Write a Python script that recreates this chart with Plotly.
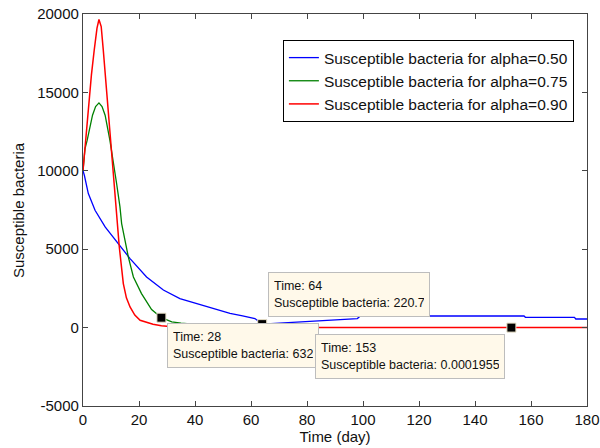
import plotly.graph_objects as go

# ---- data ----
t_red = [0, 1, 2, 3, 4, 5, 5.7, 6.5, 7.25, 8, 8.7, 9.5, 10.2, 11.4, 12, 12.96, 14.4, 15.5,
         16.8, 18.5, 20.4, 23, 25, 28, 32, 40, 60, 100, 153, 180]
v_red = [10000, 12200, 14300, 16100, 17690, 19100, 19650, 19200, 17690, 16100, 14500, 12800,
         11300, 8760, 7350, 5140, 2807, 1900, 1314, 800, 466, 300, 210, 120, 60, 20, 2, 0.05,
         0.0001955, 0.00005]

# green tail beyond ~t=80 lies under the red curve and is not visible in the reference
t_green = [0, 0.7, 1.5, 3.4, 4.5, 5.7, 6.8, 7.9, 9.6, 11.4, 12, 13.2, 13.8, 16.2, 18, 20.9,
           24.5, 28, 31.7, 35, 40, 45, 50, 60, 80]
v_green = [10000, 11400, 11950, 13545, 14100, 14330, 14100, 13545, 11950, 10035, 9190, 7700,
           6635, 4500, 3230, 2170, 1150, 632, 360, 290, 200, 120, 60, 10, 0.5]

t_blue = [0, 0.5, 1.9, 4.3, 7.9, 12, 16.8, 22.7, 28.7, 34.6, 41.5, 47, 52.5, 57, 61.4, 64,
          70.4, 80, 90, 98, 99, 157.5, 158, 175.5, 176, 180]
v_blue = [10000, 9700, 8550, 7480, 6420, 5460, 4400, 3230, 2400, 1850, 1500, 1200, 900, 750,
          574, 220.7, 293, 390, 490, 574, 740, 740, 657, 657, 549, 549]

series_names = ["Susceptible bacteria for alpha=0.50",
                "Susceptible bacteria for alpha=0.75",
                "Susceptible bacteria for alpha=0.90"]

tip_t = [28, 64, 153]
tip_v = [632, 220.7, 0.0001955]
tip_text = ["Time: 28<br>Susceptible bacteria: 632",
            "Time: 64<br>Susceptible bacteria: 220.7",
            "Time: 153<br>Susceptible bacteria: 0.0001955"]

x_ticks = [0, 20, 40, 60, 80, 100, 120, 140, 160, 180]
y_ticks = [-5000, 0, 5000, 10000, 15000, 20000]
y_ticktext = ["-5000", "0", "5000", "10000", "15000", "20000"]

FONT = "Liberation Sans, Arial, sans-serif"

fig = go.Figure()
fig.add_trace(go.Scatter(x=t_blue, y=v_blue, mode="lines", name=series_names[0],
                         line=dict(color="#0000FF", width=1.3)))
fig.add_trace(go.Scatter(x=t_green, y=v_green, mode="lines", name=series_names[1],
                         line=dict(color="#008000", width=1.3)))
fig.add_trace(go.Scatter(x=t_red, y=v_red, mode="lines", name=series_names[2],
                         line=dict(color="#FF0000", width=1.5)))
fig.add_trace(go.Scatter(x=tip_t, y=tip_v, mode="markers", showlegend=False,
                         marker=dict(symbol="square", size=9, color="black",
                                     line=dict(color="#e8e0c8", width=1))))

axis_common = dict(showline=True, linecolor="#444", linewidth=1.3, mirror="ticks",
                   ticks="inside", ticklen=5, tickcolor="#444", showgrid=False,
                   zeroline=False, automargin=False,
                   tickfont=dict(family=FONT, size=15, color="#111"))

fig.update_layout(
    width=600, height=448,
    margin=dict(l=83, r=13, t=14, b=42),
    paper_bgcolor="white", plot_bgcolor="white",
    font=dict(family=FONT, size=15, color="#111"),
    xaxis=dict(range=[0, 180], tickvals=x_ticks,
               title=dict(text="Time (day)", font=dict(size=15), standoff=0),
               **axis_common),
    yaxis=dict(range=[-5000, 20000], tickvals=y_ticks, ticktext=y_ticktext,
               **axis_common),
    legend=dict(x=0.974, y=0.9336, xanchor="right", yanchor="top",
                bgcolor="white", bordercolor="black", borderwidth=1,
                font=dict(family=FONT, size=15.5, color="#111")),
    showlegend=True,
)

# y-axis title placed as text to match the reference offset
fig.add_annotation(text="Susceptible bacteria", xref="paper", yref="paper",
                   x=0, y=0.5, xanchor="center", yanchor="middle", xshift=-65,
                   textangle=-90, showarrow=False,
                   font=dict(family=FONT, size=15, color="#111"))

anch = [dict(xanchor="left", yanchor="top", xshift=6, yshift=-5, width=140),
        dict(xanchor="left", yanchor="bottom", xshift=6, yshift=7, width=150),
        dict(xanchor="right", yanchor="top", xshift=-6, yshift=-6, width=178)]
for tt, vv, txt, a in zip(tip_t, tip_v, tip_text, anch):
    fig.add_annotation(x=tt, y=vv, xref="x", yref="y", text=txt, showarrow=False,
                       align="left", bgcolor="#FFF9EA", bordercolor="#BDBDBD",
                       borderwidth=1, borderpad=5, height=33,
                       font=dict(family=FONT, size=12.5, color="#111"), **a)

fig.write_html("out.html")
